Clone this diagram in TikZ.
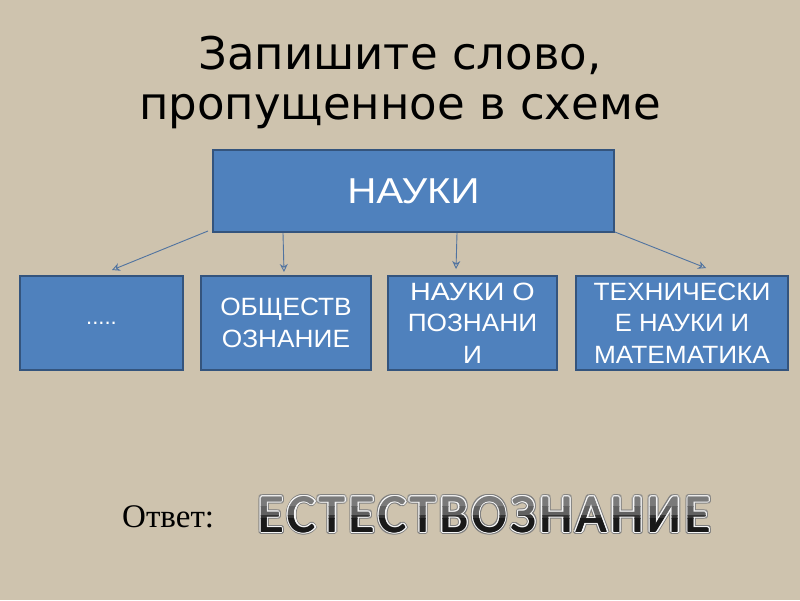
\documentclass[tikz,border=0pt]{standalone}
\usepackage{fontspec}
\setmainfont{Liberation Sans}
\newfontfamily\dejavu{DejaVu Sans}
\newfontfamily\tnr{Liberation Serif}
\newfontfamily\carl{Carlito}
\usetikzlibrary{arrows.meta,calc}
\definecolor{bgc}{RGB}{206,195,174}
\definecolor{boxfill}{RGB}{79,129,189}
\definecolor{boxline}{RGB}{52,84,125}
\definecolor{arrc}{RGB}{80,115,160}
\newcommand\kk{\kern3.6pt}
\newcommand\answord{\resizebox{453pt}{35pt}{\carl\fontsize{54}{60}\selectfont Е\kk С\kk Т\kk Е\kk С\kk Т\kk В\kk О\kk З\kk Н\kk А\kk Н\kk И\kk Е}}
\tikzset{
  bluebox/.style={draw=boxline, fill=boxfill, line width=2.5pt, inner sep=0pt, align=center, text=white},
  smalltxt/.style={font=\fontsize{25}{31.5}\selectfont},
  conn/.style={draw=arrc, line width=0.9pt, -{Stealth[open,length=8pt,width=8pt]}},
  ansnode/.style={anchor=base west, inner sep=0pt, outer sep=0pt}
}
\begin{document}
\begin{tikzpicture}[x=1pt,y=-1pt]
\fill[bgc] (0,0) rectangle (800,600);
\useasboundingbox (0,0) rectangle (800,600);

% title
\node[anchor=base, font=\dejavu\fontsize{45}{54}\selectfont, text=black, inner sep=0pt] (t1) at (400,69) {Запишите слово,};
\node[anchor=base, font=\dejavu\fontsize{45}{54}\selectfont, text=black, inner sep=0pt] (t2) at (400,119) {пропущенное в схеме};

% boxes
\node[bluebox, minimum width=401pt, minimum height=82pt, font=\fontsize{36}{40}\selectfont] (top) at (413.5,191) {\scalebox{1.12}[1]{НАУКИ}};
\node[bluebox, minimum width=163pt, minimum height=94pt, font=\fontsize{22}{26}\selectfont] (b1) at (101.5,323) {.....};
\node[bluebox, smalltxt, minimum width=170pt, minimum height=94pt] (b2) at (286,323) {\scalebox{1.05}[1]{ОБЩЕСТВ}\\\scalebox{1.05}[1]{ОЗНАНИЕ}};
\node[bluebox, smalltxt, minimum width=169pt, minimum height=94pt] (b3) at (472.5,323) {\scalebox{1.15}[1]{НАУКИ О}\\\scalebox{1.05}[1]{ПОЗНАНИ}\\\scalebox{1.05}[1]{И}};
\node[bluebox, smalltxt, minimum width=212pt, minimum height=94pt] (b4) at (682,323) {\scalebox{1.05}[1]{ТЕХНИЧЕСКИ}\\\scalebox{1.03}[1]{Е НАУКИ И}\\\scalebox{1.05}[1]{МАТЕМАТИКА}};

% connectors
\coordinate (s1) at (208,231); \coordinate (e1) at (112,270);
\coordinate (s2) at (283,233); \coordinate (e2) at (284,272);
\coordinate (s3) at (457,233); \coordinate (e3) at (456,269);
\coordinate (s4) at (615,232); \coordinate (e4) at (706,268);
\draw[conn] (s1) -- (e1);
\draw[conn] (s2) -- (e2);
\draw[conn] (s3) -- (e3);
\draw[conn] (s4) -- (e4);

% answer
\node[anchor=base west, inner sep=0pt, font=\tnr\fontsize{33}{38}\selectfont, text=black] (otv) at (122,527) {Ответ:};

\coordinate (ansbase) at (258,532);
\foreach \a in {0,30,...,330}{
  \node[ansnode, text=black!50] (od\a) at ([shift={(\a:2.8pt)}]ansbase) {\answord};
}
\foreach \a in {0,30,...,330}{
  \node[ansnode, text=white!96!black] (ow\a) at ([shift={(\a:1.8pt)}]ansbase) {\answord};
}
\foreach \a in {0,90,180,270}{
  \begin{scope}
    \clip (240,480) rectangle (730,506);
    \node[ansnode, text=black!52] (g1\a) at ([shift={(\a:0.5pt)}]ansbase) {\answord};
  \end{scope}
  \begin{scope}
    \clip (240,506) rectangle (730,515);
    \node[ansnode, text=black!62] (g2\a) at ([shift={(\a:0.5pt)}]ansbase) {\answord};
  \end{scope}
  \begin{scope}
    \clip (240,515) rectangle (730,518);
    \node[ansnode, text=black!80] (g3\a) at ([shift={(\a:0.5pt)}]ansbase) {\answord};
  \end{scope}
  \begin{scope}
    \clip (240,518) rectangle (730,545);
    \node[ansnode, text=black!90] (g4\a) at ([shift={(\a:0.5pt)}]ansbase) {\answord};
  \end{scope}
}
\end{tikzpicture}
\end{document}
